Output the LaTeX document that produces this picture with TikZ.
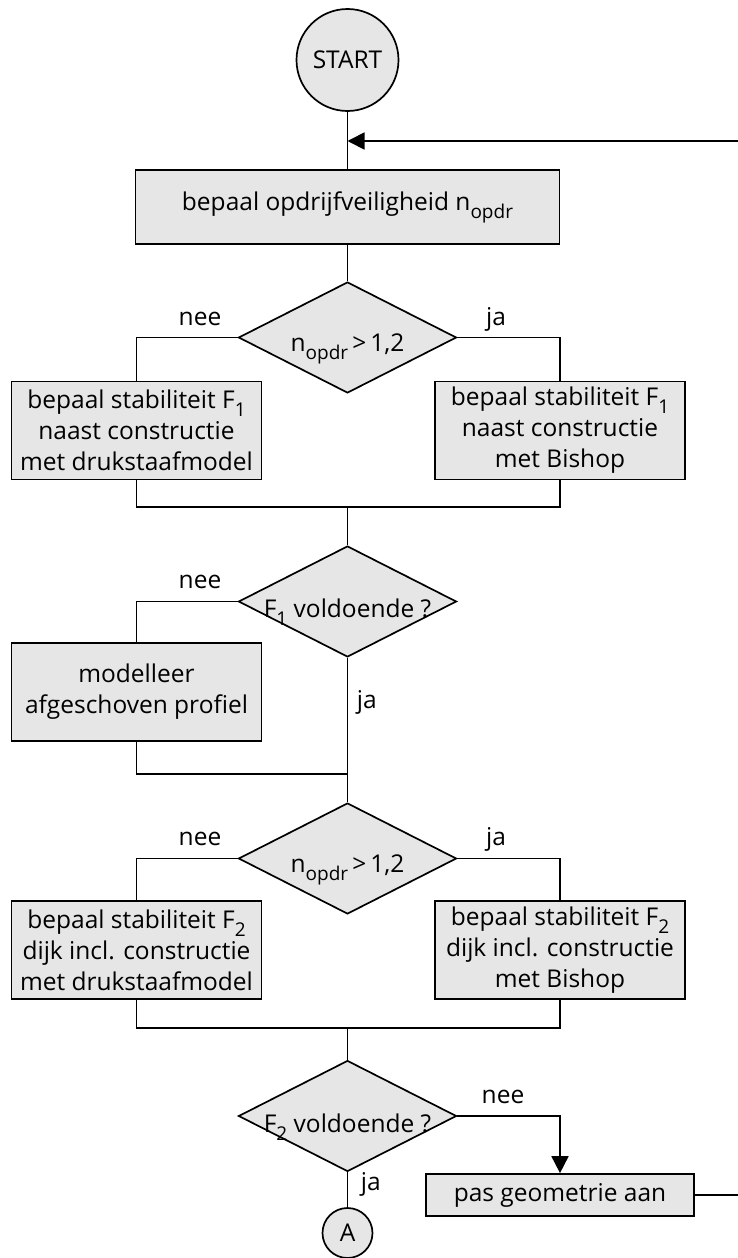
\documentclass[tikz,border=0pt]{standalone}
\usepackage{fontspec}
\setmainfont{Open Sans}
\usetikzlibrary{shapes.geometric,arrows.meta}
\definecolor{boxgray}{RGB}{230,230,230}
\newcommand\lsub[1]{\raisebox{-0.33em}{\fontsize{19}{19}\selectfont #1}}
\begin{document}
\begin{tikzpicture}[x=1pt,y=-1pt,line width=1.7pt,
  font=\fontsize{24.5}{31}\selectfont,
  box/.style={draw,fill=boxgray,rectangle,align=center,inner sep=0pt,minimum width=250pt,minimum height=98pt},
  dec/.style={draw,fill=boxgray,diamond,inner sep=0pt,minimum width=218pt,minimum height=111pt},
  dtext/.style={anchor=base,yshift=-11pt},
  circ/.style={draw,fill=boxgray,circle,inner sep=0pt},
  lbl/.style={anchor=base,inner sep=0pt},
  tip/.style={-{Triangle[length=17pt,width=17pt]}}]
\useasboundingbox (0,0) rectangle (738,1258);

\node[circ,minimum size=102pt] (start) at (347.5,60) {START};
\node[box,minimum width=424pt,minimum height=74pt] (b1) at (347.5,207) {bepaal opdrijfveiligheid n\lsub{opdr}};
\node[dec,label={[dtext]center:{n\lsub{opdr}\,>\,1,2}}] (d1) at (347.5,337.5) {};
\node[box] (l1) at (136.5,430.5) {bepaal stabiliteit F\lsub{1}\\naast constructie\\met drukstaafmodel};
\node[box] (r1) at (560,430.5) {bepaal stabiliteit F\lsub{1}\\naast constructie\\met Bishop};
\coordinate (m1) at (347.5,507);
\node[dec,label={[dtext]center:{F\lsub{1} voldoende ?}}] (d2) at (347.5,601.5) {};
\node[box] (mod) at (136.5,692) {modelleer\\afgeschoven profiel};
\coordinate (m2) at (347.5,774);
\node[dec,label={[dtext]center:{n\lsub{opdr}\,>\,1,2}}] (d3) at (347.5,858.5) {};
\node[box] (l2) at (136.5,950) {bepaal stabiliteit F\lsub{2}\\dijk incl. constructie\\met drukstaafmodel};
\node[box] (r2) at (560,950) {bepaal stabiliteit F\lsub{2}\\dijk incl. constructie\\met Bishop};
\coordinate (m3) at (347.5,1028);
\node[dec,label={[dtext]center:{F\lsub{2} voldoende ?}}] (d4) at (347.5,1116) {};
\node[box,minimum width=268pt,minimum height=42pt] (geo) at (560,1195) {pas geometrie aan};
\node[circ,minimum size=50pt] (a) at (347.5,1233) {A};

\coordinate (in) at (738,141);
\coordinate (j0) at (347.5,141);
\coordinate (out) at (738,1195);

\node[lbl] (n1) at (200,325) {nee};
\node[lbl] (y1) at (496,325) {ja};
\node[lbl] (n2) at (200,588) {nee};
\node[lbl,anchor=base west] (y2) at (356,708) {ja};
\node[lbl] (n3) at (200,845) {nee};
\node[lbl] (y3) at (496,845) {ja};
\node[lbl] (n4) at (503,1103) {nee};
\node[lbl,anchor=base west] (y4) at (360,1190) {ja};

\draw (start) -- (b1);
\draw[tip] (in) -- (j0);
\draw (b1) -- (d1);
\draw (d1.west) -| (l1.north);
\draw (d1.east) -| (r1.north);
\draw (l1.south) |- (m1) -| (r1.south);
\draw (m1) -- (d2.north);
\draw (d2.west) -| (mod.north);
\draw (mod.south) |- (m2);
\draw (d2.south) -- (d3.north);
\draw (d3.west) -| (l2.north);
\draw (d3.east) -| (r2.north);
\draw (l2.south) |- (m3) -| (r2.south);
\draw (m3) -- (d4.north);
\draw[tip] (d4.east) -| (geo.north);
\draw (d4.south) -- (a);
\draw (geo) -- (out);
\end{tikzpicture}
\end{document}
